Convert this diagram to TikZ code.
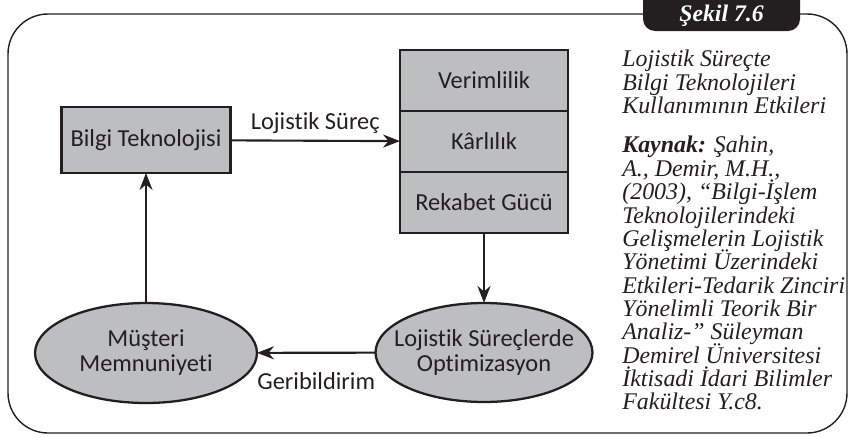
\documentclass[tikz,border=0pt]{standalone}
\usepackage{fontspec}
\setmainfont{Liberation Serif}
\newfontfamily\gillfont[Ligatures=NoCommon]{Carlito}
\usetikzlibrary{arrows.meta, positioning, shapes.geometric}
\definecolor{BoxGray}{HTML}{BCBEC0}
\definecolor{InkBlack}{HTML}{231F20}
\newcommand{\diagfont}{\gillfont\fontsize{13.9}{14.2}\selectfont}
\newcommand{\notefont}{\itshape\fontsize{13.6}{13.3}\selectfont\lineskiplimit=-20pt}
\tikzset{
  box/.style={draw=InkBlack, line width=1.3pt, fill=BoxGray, align=center, minimum width=3.38cm, minimum height=1.32cm, inner sep=2pt, outer sep=0pt, font=\diagfont, text=InkBlack},
  cell/.style={box, minimum width=3.36cm, minimum height=1.22cm},
  oval/.style={ellipse, draw=InkBlack, line width=1.3pt, fill=BoxGray, inner sep=0pt, outer sep=0pt},
  ovaltext/.style={align=center, font=\diagfont, text=InkBlack},
  arrow/.style={-{Stealth[length=3.4mm, width=2.6mm, inset=1.1mm]}, line width=1.2pt, draw=InkBlack},
  edgelabel/.style={font=\diagfont, text=InkBlack},
  frame/.style={draw=InkBlack, line width=0.8pt, rounded corners=0.8cm},
  tabtext/.style={text=white, font=\bfseries\itshape\fontsize{13.5}{13.5}\selectfont, inner sep=0pt},
  note/.style={align=left, anchor=north west, inner sep=0pt, text=InkBlack, font=\notefont}
}

\begin{document}
\begin{tikzpicture}[x=0.02cm, y=-0.02cm]
\useasboundingbox (0,0) rectangle (851,436);
% frame and tab
\fill[InkBlack, rounded corners=0.24cm] (643,-20) rectangle (800,31);
\node[tabtext] (sekil) at (721.5,16) {Şekil 7.6};
\draw[frame] (643,14) -- (8,14) -- (8,433) -- (847,433) -- (847,14) -- (800,14);

% diagram
\node[box] (bilgi) at (146,140) {Bilgi Teknolojisi};
\node[cell] (verim) at (484,80.5) {Verimlilik};
\node[cell, below=0pt of verim] (karlilik) {Kârlılık};
\node[cell, below=0pt of karlilik] (rekabet) {Rekabet Gücü};
\node[oval, minimum width=4.34cm, minimum height=1.98cm, label={[ovaltext]center:Lojistik Süreçlerde\\Optimizasyon}] (optim) at (484,352.5) {};
\node[oval, minimum width=4.44cm, minimum height=2cm, label={[ovaltext]center:Müşteri\\Memnuniyeti}] (musteri) at (146,353) {};

\draw[arrow] (bilgi) -- node[edgelabel, above] {Lojistik Süreç} (karlilik);
\draw[arrow] (rekabet) -- (optim);
\draw[arrow] (optim) -- node[edgelabel, below=0.26cm] {Geribildirim} (musteri);
\draw[arrow] (musteri) -- (bilgi);

% caption text
\node[note] (baslik) at (622,50) {Lojistik Süreçte\\Bilgi Teknolojileri\\Kullanımının Etkileri};
\node[note] (kaynak) at (622,136) {\textbf{Kaynak:} Şahin,\\A., Demir, M.H.,\\(2003), “Bilgi-İşlem\\Teknolojilerindeki\\Gelişmelerin Lojistik\\Yönetimi Üzerindeki\\Etkileri-Tedarik Zinciri\\Yönelimli Teorik Bir\\Analiz-” Süleyman\\Demirel Üniversitesi\\İktisadi İdari Bilimler\\Fakültesi Y.c8.};
\end{tikzpicture}
\end{document}
